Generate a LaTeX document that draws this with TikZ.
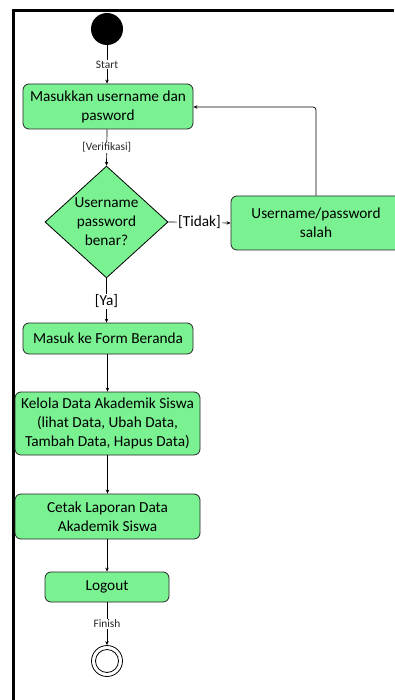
\documentclass[tikz,border=0pt]{standalone}
\usepackage{fontspec}
\setmainfont{Carlito}
\usetikzlibrary{arrows.meta,shapes.geometric}
\definecolor{actgreen}{RGB}{122,242,146}
\begin{document}
\begin{tikzpicture}[x=1pt,y=-1pt,
  every node/.style={font=\fontsize{15.3}{19}\selectfont},
  act/.style={draw=black!85,fill=actgreen,rounded corners=6pt,line width=0.8pt,
    align=center,inner sep=0pt},
  flow/.style={draw=black,line width=0.7pt,-{Stealth[length=4pt,width=3.5pt]}},
  small/.style={font=\fontsize{11.4}{13}\selectfont,text=black!85,fill=white,inner sep=1pt}]
\useasboundingbox (0,0) rectangle (394,700);
% swimlane frame
\draw[line width=3pt] (13,700) -- (13,11) -- (394,11);
% start / end
\node[circle,fill=black,minimum size=32pt,inner sep=0pt] (start) at (107,29) {};
\node[circle,draw=black,line width=0.8pt,minimum size=31pt,inner sep=0pt] (end) at (107,661) {};
\node[circle,draw=black,line width=0.8pt,minimum size=23pt,inner sep=0pt] at (end) {};
% activities
\node[act,minimum width=170pt,minimum height=45pt] (login) at (108,106.5) {Masukkan username dan\\pasword};
\node[draw=black,line width=0.8pt,fill=actgreen,diamond,minimum width=123pt,minimum height=92pt,
  inner sep=0pt,align=center] (cek) at (106.5,222) {Username\\password\\benar?};
\node[act,minimum width=170pt,minimum height=54pt] (salah) at (316,223) {Username/password\\salah};
\node[act,minimum width=170pt,minimum height=31pt] (beranda) at (108,338.5) {Masuk ke Form Beranda};
\node[act,minimum width=185pt,minimum height=63pt] (kelola) at (107.5,423.5) {Kelola Data Akademik Siswa\\(lihat Data, Ubah Data,\\Tambah Data, Hapus Data)};
\node[act,minimum width=185pt,minimum height=45pt] (cetak) at (107.5,516.5) {Cetak Laporan Data\\Akademik Siswa};
\node[act,minimum width=124pt,minimum height=30pt] (logout) at (107,587) {Logout};
% connectors
\draw[flow] (start) -- node[small] {Start} (login.north -| start);
\draw[flow] (login.south -| start) -- node[small,pos=0.5] {[Verifikasi]} (cek.north);
\draw[flow] (cek.east) -- node[fill=white,inner sep=1pt] {[Tidak]} (salah.west);
\coordinate (turn) at (316,107);
\draw[flow,rounded corners=3pt] (salah.north -| turn) -- (turn) -- (login.east |- turn);
\draw[flow] (cek.south) -- node[fill=white,inner sep=1pt,pos=0.52] {[Ya]} (beranda.north -| cek.south);
\draw[flow] (beranda.south -| kelola.north) -- (kelola.north);
\draw[flow] (kelola.south) -- (cetak.north);
\draw[flow] (cetak.south -| logout.north) -- (logout.north);
\draw[flow] (logout.south) -- node[small] {Finish} (end.north);
\end{tikzpicture}
\end{document}
